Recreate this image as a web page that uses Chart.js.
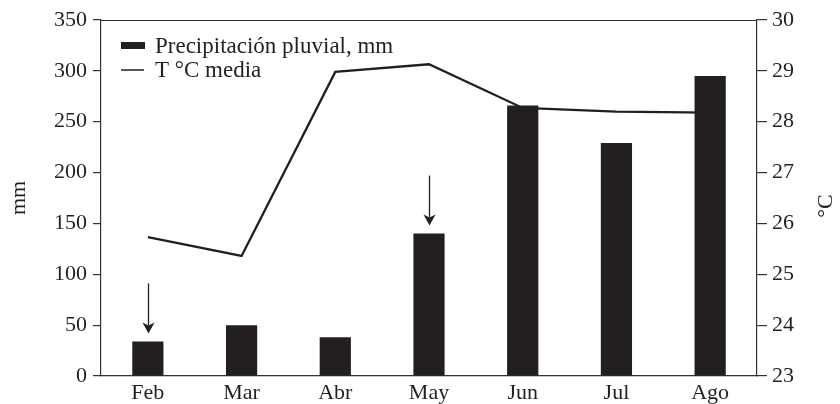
<!DOCTYPE html>
<html>
<head>
<meta charset="utf-8">
<script src="https://cdn.jsdelivr.net/npm/chart.js@4.4.1/dist/chart.umd.min.js"></script>
<style>
  html, body { margin: 0; padding: 0; background: #fff; }
  #wrap { width: 840px; height: 404px; position: relative; }
</style>
</head>
<body>
<div id="wrap"><canvas id="c" width="840" height="404"></canvas></div>
<script>
// ---- data ----
const categories = ['Feb', 'Mar', 'Abr', 'May', 'Jun', 'Jul', 'Ago'];
const precipitation = [34, 50, 38, 140, 266, 229, 295];
const temperature = [25.73, 25.36, 28.98, 29.13, 28.27, 28.2, 28.18];
const arrowCategories = ['Feb', 'May'];
const leftTitle = 'mm';
const rightTitle = '°C';
const precipLabel = 'Precipitación pluvial, mm';
const tempLabel = 'T °C media';

const INK = '#231f20';
const FONT = "'Liberation Serif', 'Times New Roman', serif";

const framePlugin = {
  id: 'frame',
  afterDraw(chart) {
    const { ctx, chartArea: a, scales } = chart;
    ctx.save();
    // top border
    ctx.strokeStyle = '#333';
    ctx.lineWidth = 1.2;
    ctx.beginPath();
    ctx.moveTo(a.left, Math.round(a.top) + 0.5);
    ctx.lineTo(a.right, Math.round(a.top) + 0.5);
    ctx.stroke();

    // arrows above selected bars
    ctx.strokeStyle = INK;
    ctx.fillStyle = INK;
    ctx.lineWidth = 1.3;
    arrowCategories.forEach(cat => {
      const i = categories.indexOf(cat);
      const x = Math.round(scales.x.getPixelForValue(i)) + 0.5;
      const yTop = scales.y.getPixelForValue(precipitation[i]);
      const tip = yTop - 8;
      const start = tip - 50;
      ctx.beginPath();
      ctx.moveTo(x, start);
      ctx.lineTo(x, tip - 8);
      ctx.stroke();
      ctx.beginPath();
      ctx.moveTo(x, tip);
      ctx.lineTo(x - 6, tip - 11);
      ctx.lineTo(x, tip - 8);
      ctx.lineTo(x + 6, tip - 11);
      ctx.closePath();
      ctx.fill();
    });

    // legend
    const lx = a.left + 20, ly1 = a.top + 25.5, ly2 = a.top + 50;
    ctx.fillStyle = INK;
    ctx.fillRect(lx, ly1 - 3.5, 24, 7);
    ctx.lineWidth = 1.5;
    ctx.beginPath();
    ctx.moveTo(lx, ly2);
    ctx.lineTo(lx + 23, ly2);
    ctx.stroke();
    ctx.font = '23px ' + FONT;
    ctx.textBaseline = 'middle';
    ctx.textAlign = 'left';
    ctx.fillText(precipLabel, lx + 34, ly1 + 1);
    ctx.fillText(tempLabel, lx + 34, ly2 + 1);

    // axis titles
    ctx.font = '22px ' + FONT;
    ctx.textAlign = 'center';
    ctx.save();
    ctx.translate(19, (a.top + a.bottom) / 2);
    ctx.rotate(-Math.PI / 2);
    ctx.fillText(leftTitle, 0, 0);
    ctx.restore();
    ctx.save();
    ctx.translate(826, (a.top + a.bottom) / 2 + 8);
    ctx.rotate(-Math.PI / 2);
    ctx.fillText(rightTitle, 0, 0);
    ctx.restore();
    ctx.restore();
  }
};

new Chart(document.getElementById('c'), {
  data: {
    labels: categories,
    datasets: [
      {
        type: 'bar',
        label: precipLabel,
        data: precipitation,
        backgroundColor: INK,
        borderWidth: 0,
        categoryPercentage: 1,
        barPercentage: 0.333,
        yAxisID: 'y',
        order: 0
      },
      {
        type: 'line',
        label: tempLabel,
        data: temperature,
        borderColor: INK,
        borderWidth: 2.3,
        pointRadius: 0,
        tension: 0,
        fill: false,
        yAxisID: 'y1',
        order: 1
      }
    ]
  },
  options: {
    responsive: false,
    animation: false,
    devicePixelRatio: 1,
    layout: { padding: { top: 20, left: 0, right: 0, bottom: 0 } },
    plugins: { legend: { display: false }, tooltip: { enabled: false } },
    scales: {
      x: {
        offset: true,
        grid: { display: true, drawOnChartArea: false, drawTicks: false },
        border: { display: true, color: '#333', width: 1.2 },
        ticks: { color: INK, font: { family: FONT, size: 22 }, padding: 4, maxRotation: 0, autoSkip: false },
        afterFit(s) { s.height = 28; }
      },
      y: {
        position: 'left',
        min: 0, max: 350,
        grid: { display: true, drawOnChartArea: false, drawTicks: true, tickLength: 8, color: '#333', lineWidth: 1.2 },
        border: { display: true, color: '#333', width: 1.2 },
        ticks: { stepSize: 50, color: INK, font: { family: FONT, size: 22 }, padding: 6 },
        afterFit(s) { s.width = 101; }
      },
      y1: {
        position: 'right',
        min: 23, max: 30,
        grid: { display: true, drawOnChartArea: false, drawTicks: true, tickLength: 10, color: '#333', lineWidth: 1.2 },
        border: { display: true, color: '#333', width: 1.2 },
        ticks: { stepSize: 1, color: INK, font: { family: FONT, size: 22 }, padding: 5 },
        afterFit(s) { s.width = 83; }
      }
    }
  },
  plugins: [framePlugin]
});
</script>
</body>
</html>
